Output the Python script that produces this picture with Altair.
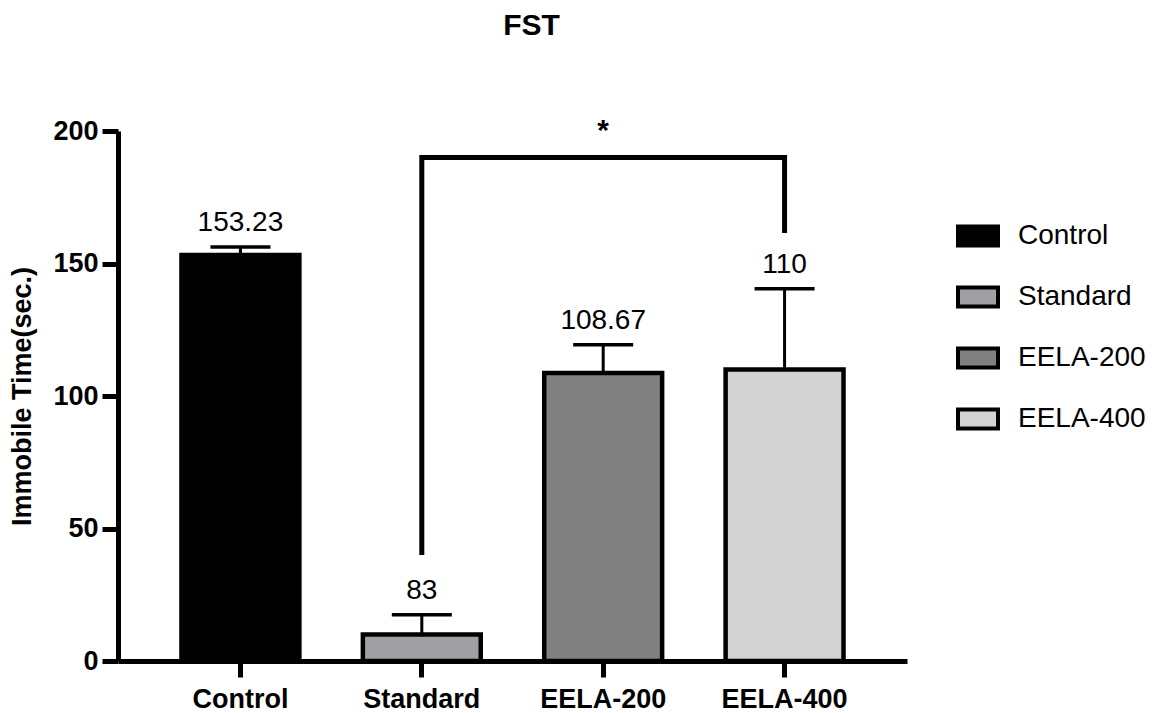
import altair as alt
import pandas as pd

groups = ["Control", "Standard", "EELA-200", "EELA-400"]
means = [153.23, 10, 108.67, 110]
err_top = [156.2, 17.5, 119.3, 140.5]
value_labels = ["153.23", "83", "108.67", "110"]
colors = ["#000000", "#a0a0a4", "#808080", "#d3d3d3"]

bracket_groups = ["Standard", "Standard", "EELA-400", "EELA-400"]
bracket_y = [40, 190, 190, 161.5]
bracket_order = [0, 1, 2, 3]
star_text = "*"

FONT = "Liberation Sans"

df = pd.DataFrame({"group": groups, "mean": means, "err": err_top, "label": value_labels})
br = pd.DataFrame({"group": bracket_groups, "y": bracket_y, "o": bracket_order})
star = pd.DataFrame({"y": [190], "t": [star_text]})

xscale = alt.Scale(domain=groups, paddingInner=0.35, paddingOuter=0.35)
yscale = alt.Scale(domain=[0, 200], nice=False)

x_axis = alt.Axis(title=None, labelAngle=0, labelAlign="center", labelBaseline="top",
                  labelFont=FONT, labelFontSize=27,
                  labelFontWeight="bold", labelColor="black", labelPadding=9,
                  ticks=True, tickBand="center",
                  tickSize=16, tickWidth=5, tickColor="black", tickOpacity=1,
                  domainWidth=5, domainColor="black")
y_axis = alt.Axis(title="Immobile Time(sec.)", titleFont=FONT, titleFontSize=27,
                  titleFontWeight="bold", titleColor="black", titlePadding=16,
                  values=[0, 50, 100, 150, 200], grid=False,
                  labelFont=FONT, labelFontSize=27, labelFontWeight="bold",
                  labelColor="black", labelPadding=4,
                  tickSize=16, tickWidth=5, tickColor="black",
                  domainWidth=5, domainColor="black")


def X(field="group"):
    return alt.X(f"{field}:N", sort=groups, scale=xscale, axis=x_axis)


def Y(field):
    return alt.Y(f"{field}:Q", scale=yscale, axis=y_axis)


base = alt.Chart(df)

rules = base.mark_rule(color="black", strokeWidth=3).encode(
    x=X(), y=Y("mean"), y2="err:Q",
)

bars = base.mark_bar(stroke="black", strokeWidth=4.5, opacity=1).encode(
    x=X(),
    y=Y("mean"),
    color=alt.Color("group:N", sort=groups,
                    scale=alt.Scale(domain=groups, range=colors),
                    legend=alt.Legend(title=None, orient="none", legendX=838, legendY=83,
                                      symbolType="M-1,-0.475L1,-0.475L1,0.475L-1,0.475Z",
                                      symbolSize=1600, symbolStrokeColor="black",
                                      symbolStrokeWidth=4, symbolOpacity=1,
                                      labelFont=FONT, labelFontSize=28, labelColor="black",
                                      labelOffset=18, rowPadding=21)),
)

caps = base.mark_tick(color="black", thickness=3.5, size=60, opacity=1).encode(
    x=X(), y=Y("err"),
)

texts = base.mark_text(font=FONT, fontSize=28, color="black", baseline="alphabetic", dy=-16).encode(
    x=X(), y=Y("err"), text="label:N",
)

bracket = alt.Chart(br).mark_line(color="black", strokeWidth=5, strokeJoin="miter", strokeCap="butt").encode(
    x=X(), y=Y("y"), order="o:Q",
)

star_mark = alt.Chart(star).mark_text(font=FONT, fontSize=30, fontWeight="bold", color="black",
                                      baseline="alphabetic", dy=-18).encode(
    x=alt.value(485),
    y=Y("y"),
    text="t:N",
)

chart = alt.layer(rules, bars, caps, texts, bracket, star_mark).properties(
    width=789, height=530,
    padding={"left": 0, "top": 2, "right": 5, "bottom": 0},
    title=alt.TitleParams("FST", font=FONT, fontSize=30, fontWeight="bold", color="black",
                          offset=75, dx=19),
).configure(background="white").configure_view(stroke="transparent", strokeWidth=0)

chart.save("out.html", embed_options={"renderer": "svg", "actions": False})
